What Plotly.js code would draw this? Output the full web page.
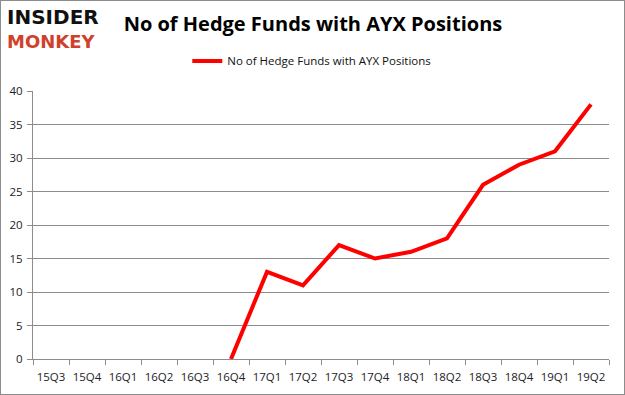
<!DOCTYPE html>
<html>
<head>
<meta charset="utf-8">
<script src="https://cdn.plot.ly/plotly-3.0.1.min.js"></script>
<style>
html,body{margin:0;padding:0;background:#fff;}
#chart{width:623px;height:393px;border:1px solid #8c8c8c;}
</style>
</head>
<body>
<div id="chart"></div>
<script>
const quarters = ["15Q3","15Q4","16Q1","16Q2","16Q3","16Q4","17Q1","17Q2","17Q3","17Q4","18Q1","18Q2","18Q3","18Q4","19Q1","19Q2"];
const hedgeFunds = [null,null,null,null,null,0,13,11,17,15,16,18,26,29,31,38];
const yTicks = [0,5,10,15,20,25,30,35,40];
const seriesName = "No of Hedge Funds with AYX Positions";
const chartTitle = "No of Hedge Funds with AYX Positions";

const trace = {
  x: quarters,
  y: hedgeFunds,
  type: "scatter",
  mode: "lines",
  name: seriesName,
  connectgaps: false,
  line: {color: "#ff0000", width: 4},
  hoverinfo: "skip"
};

const layout = {
  width: 623,
  height: 393,
  margin: {l: 32, r: 15, t: 90, b: 35},
  paper_bgcolor: "#ffffff",
  plot_bgcolor: "#ffffff",
  font: {family: "Open Sans, DejaVu Sans, sans-serif", size: 11, color: "#222"},
  title: {
    text: "<b>" + chartTitle + "</b>",
    font: {family: "Open Sans, Liberation Sans, sans-serif", size: 20, color: "#000"},
    x: 0.486, xanchor: "center", xref: "paper",
    y: 0.941, yanchor: "middle", yref: "container"
  },
  showlegend: true,
  legend: {
    orientation: "h",
    x: 0.484, xanchor: "center",
    y: 1.112, yanchor: "middle",
    itemwidth: 30,
    font: {size: 11.5, color: "#111"},
    bgcolor: "rgba(0,0,0,0)"
  },
  xaxis: {
    type: "category",
    categoryarray: quarters,
    range: [-0.5, quarters.length - 0.5],
    showgrid: false,
    showline: true,
    linecolor: "#8c8c8c",
    linewidth: 1,
    ticks: "outside",
    ticklen: 5,
    tickcolor: "#8c8c8c",
    tickson: "boundaries",
    tickangle: 0,
    ticklabelstandoff: 7,
    tickfont: {size: 11.5, color: "#222"},
    fixedrange: true,
    zeroline: false
  },
  yaxis: {
    range: [0, 40],
    tickvals: yTicks,
    showgrid: true,
    gridcolor: "#8c8c8c",
    gridwidth: 1,
    showline: true,
    linecolor: "#8c8c8c",
    ticks: "outside",
    ticklen: 5,
    tickcolor: "#8c8c8c",
    ticklabelstandoff: 2,
    tickfont: {size: 11.5, color: "#222"},
    zeroline: false,
    fixedrange: true
  },
  annotations: [
    {
      text: "<b>INSIDER</b>", xref: "paper", yref: "paper",
      x: -0.047, y: 1.276, xanchor: "left", yanchor: "middle",
      showarrow: false, borderpad: 0,
      font: {family: "DejaVu Sans, sans-serif", size: 20, color: "#111"}
    },
    {
      text: "<b>MONKEY</b>", xref: "paper", yref: "paper",
      x: -0.047, y: 1.185, xanchor: "left", yanchor: "middle",
      showarrow: false, borderpad: 0,
      font: {family: "DejaVu Sans, sans-serif", size: 18, color: "#d0402a"}
    }
  ]
};

Plotly.newPlot("chart", [trace], layout, {displayModeBar: false, staticPlot: true});
</script>
</body>
</html>
